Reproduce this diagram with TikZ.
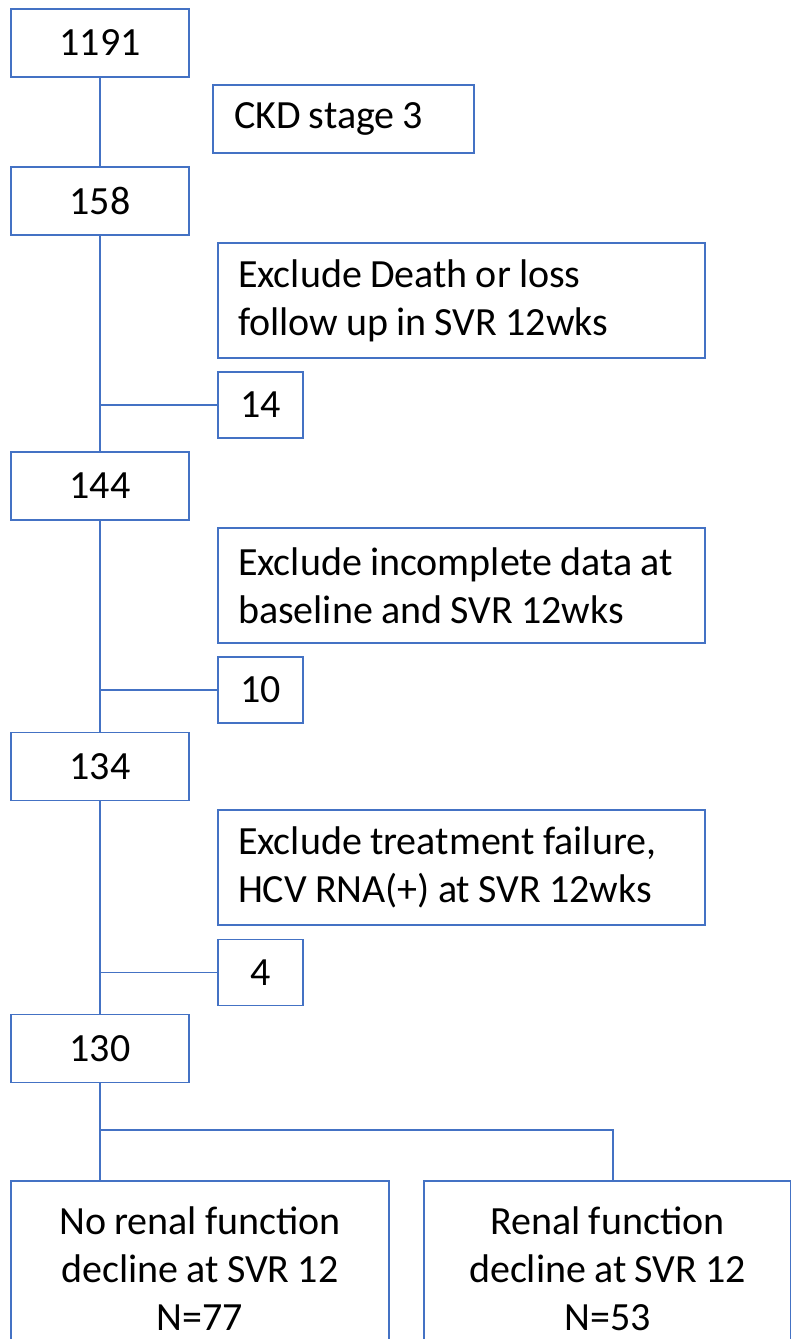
\documentclass[tikz,border=0pt]{standalone}
\usepackage{fontspec}
\setmainfont[WordSpace=0.9]{Carlito}
\usetikzlibrary{positioning}

\definecolor{flowblue}{HTML}{4472C4}

\tikzset{
  count/.style={draw=flowblue,line width=1.5pt,minimum width=178pt,minimum height=68pt,inner sep=0pt},
  small/.style={draw=flowblue,line width=1.5pt,minimum width=85pt,minimum height=66pt,inner sep=0pt},
  note/.style={draw=flowblue,line width=1.5pt,minimum width=487pt,minimum height=115pt,
               text width=447pt,align=flush left,inner xsep=20pt,inner ysep=0pt},
  outcome/.style={draw=flowblue,line width=1.5pt,minimum height=175pt,align=center,inner sep=0pt},
}

\begin{document}
\begin{tikzpicture}[x=1pt,y=-1pt,font=\fontsize{40}{48}\selectfont]

                \useasboundingbox (0,0) rectangle (791,1339);

                \node[count] (n1191) at (100,43) {1191};
                \node[draw=flowblue,line width=1.5pt,minimum width=261pt,minimum height=68pt,
                      text width=219pt,align=flush left,inner xsep=21pt] (ckd) at (343.5,119) {CKD stage 3};
                \node[count] (n158) at (100,201) {158};

                \node[note] (death) at (461.5,300.5) {Exclude Death or loss\\follow up in SVR 12wks};
                \node[small] (n14) at (260.5,405) {14};
                \node[count] (n144) at (100,486) {144};

                \node[note] (incomplete) at (461.5,585.5) {Exclude incomplete data at\\baseline and SVR 12wks};
                \node[small] (n10) at (260.5,690) {10};
                \node[count] (n134) at (100,766.5) {134};

                \node[note] (failure) at (461.5,867.5) {Exclude treatment failure,\\HCV RNA(+) at SVR 12wks};
                \node[small] (n4) at (260.5,972.5) {4};
                \node[count] (n130) at (100,1048.5) {130};

                \node[outcome,minimum width=378pt,anchor=north] (n77) at (200,1180)
                     {No renal function\\decline at SVR 12\\N=77};
                \node[outcome,minimum width=367pt,anchor=north] (n53) at (607.5,1180)
                     {Renal function\\decline at SVR 12\\N=53};

                \coordinate (split) at (100,1130);

                \path[draw=flowblue,line width=1.5pt]
                          (n1191) edge (n158)
                          (n158.south) edge (n144.north)
                          (n158.south |- n14.west) edge (n14.west)
                          (n144.south) edge (n134.north)
                          (n144.south |- n10.west) edge (n10.west)
                          (n134.south) edge (n130.north)
                          (n134.south |- n4.west) edge (n4.west)
                          (n130.south) edge (split |- n77.north);

                \draw[flowblue,line width=1.5pt] (split) -| ([xshift=5.5pt]n53.north);

            \end{tikzpicture}
\end{document}
